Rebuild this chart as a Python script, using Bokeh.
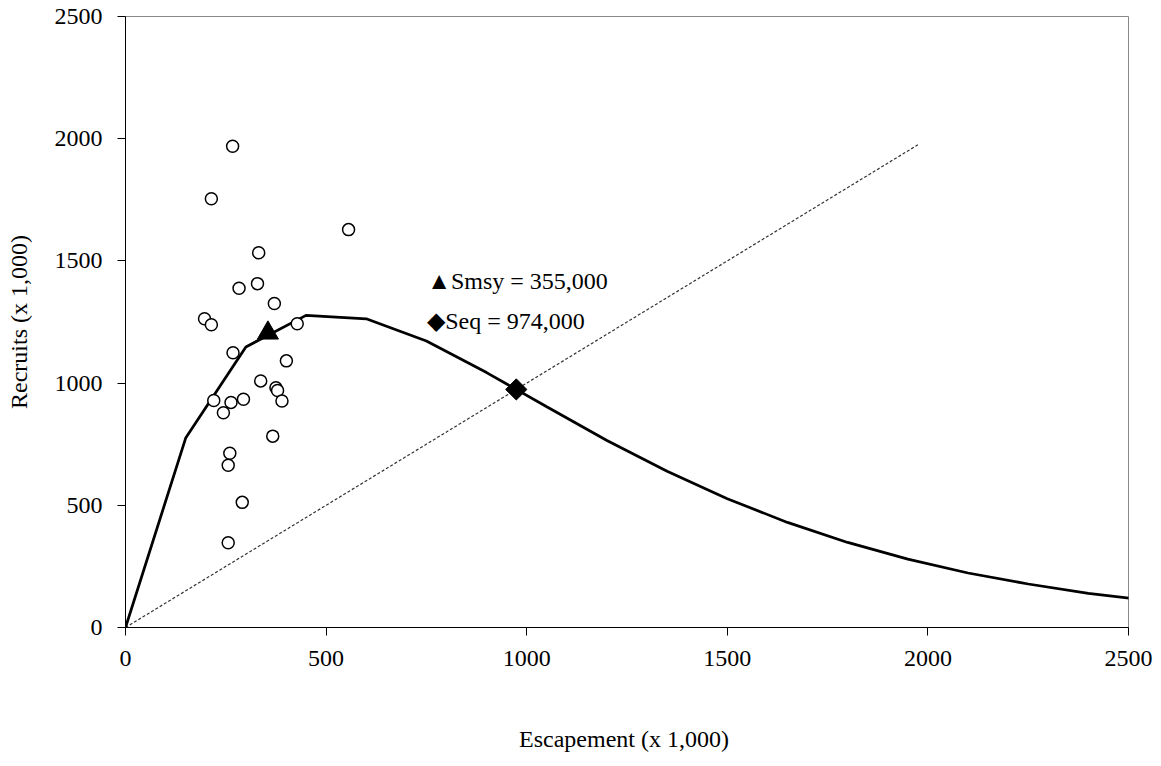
import math
from bokeh.plotting import figure
from bokeh.models import Range1d, FixedTicker
from bokeh.core.properties import value
from bokeh.embed import file_html
from bokeh.resources import INLINE

# Observed brood-year data (thousands)
escapement = [267, 214, 556, 332, 283, 329, 371, 197, 214, 428, 268, 401, 337,
              375, 379, 390, 220, 263, 294, 244, 367, 260, 256, 291, 256]
recruits = [1969, 1754, 1628, 1533, 1388, 1407, 1326, 1263, 1239, 1243, 1124, 1091, 1009,
            981, 970, 927, 929, 921, 934, 879, 783, 713, 664, 512, 347]

# Fitted spawner-recruit curve (thousands)
curve_s = [0, 150, 300, 450, 600, 750, 900, 1050, 1200, 1350, 1500, 1650, 1800,
           1950, 2100, 2250, 2400, 2550]
curve_r = [0, 775, 1148, 1277, 1263, 1172, 1043, 903, 765, 639, 527, 430, 348,
           280, 223, 178, 140, 111]

# Replacement (1:1) line
repl_x = [0, 1975]
repl_y = [0, 1975]

# Reference points
smsy = (355, 1205)
seq = (974, 974)
labels = ["\u25b2Smsy = 355,000", "\u25c6Seq = 974,000"]
label_x = [752, 752]
label_y = [1417, 1256]

ticks = [0, 500, 1000, 1500, 2000, 2500]

FONT = "Liberation Serif"
FS = "24px"

p = figure(width=1153, height=758, output_backend="svg", toolbar_location=None,
           x_range=Range1d(0, 2500), y_range=Range1d(0, 2500),
           min_border_left=125, min_border_right=25, min_border_top=16,
           min_border_bottom=131)
p.background_fill_color = "white"
p.border_fill_color = "white"
p.outline_line_color = "#888888"
p.outline_line_width = 1
p.xgrid.visible = False
p.ygrid.visible = False

for ax in (p.xaxis, p.yaxis):
    ax.ticker = FixedTicker(ticks=ticks)
    ax.axis_line_color = "black"
    ax.axis_line_width = 1
    ax.major_tick_line_color = "black"
    ax.major_tick_in = 0
    ax.major_tick_out = 8
    ax.minor_tick_line_color = None
    ax.major_label_text_font = FONT
    ax.major_label_text_font_size = FS
    ax.major_label_text_color = "black"
    ax.major_label_standoff = 15
    ax.axis_label_text_font = FONT
    ax.axis_label_text_font_size = FS
    ax.axis_label_text_font_style = "normal"
    ax.axis_label_text_color = "black"

p.xaxis.axis_label = "Escapement (x  1,000)"
p.yaxis.axis_label = "Recruits (x 1,000)"
p.xaxis.axis_label_standoff = 57
p.yaxis.axis_label_standoff = 20

p.line(repl_x, repl_y, line_color="#333333", line_width=1.2, line_dash="3 2")
p.line(curve_s, curve_r, line_color="black", line_width=2.75)
p.scatter(escapement, recruits, marker="circle", size=12, fill_color="white",
          line_color="black", line_width=1.5)
p.scatter([smsy[0]], [smsy[1]], marker="triangle", size=21, fill_color="black",
          line_color="black")
p.scatter([seq[0]], [seq[1]], marker="square", angle=math.pi / 4, size=15,
          fill_color="black", line_color="black")
p.text(label_x, label_y, text=labels, text_font=value(FONT), text_font_size=FS,
       text_color="black", text_baseline="alphabetic", text_align="left")

open("out.html", "w").write(file_html(p, INLINE))
